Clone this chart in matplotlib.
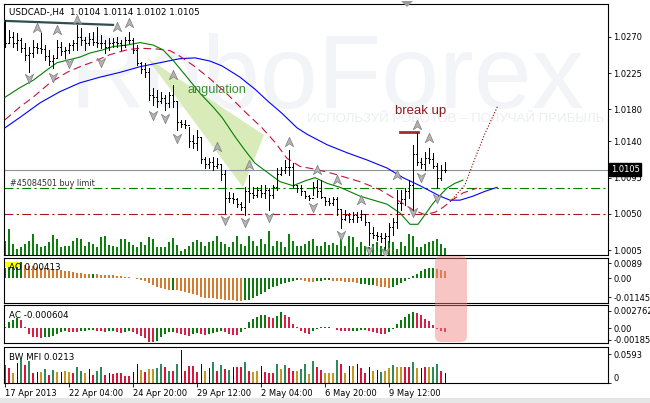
import numpy as np
import matplotlib.pyplot as plt
from matplotlib.path import Path
from matplotlib.patches import Polygon, Rectangle, FancyBboxPatch
from matplotlib.transforms import IdentityTransform

W, H = 650, 403
plt.rcParams['font.family'] = 'DejaVu Sans'

chart_title = "USDCAD-,H4  1.0104 1.0114 1.0102 1.0105"

# H4 bars, index 0 = 17 Apr 2013
highs = [1.0291, 1.0279, 1.0276, 1.0275, 1.0269, 1.0263, 1.0258, 1.0266, 1.0263, 1.0275,
         1.0260, 1.0254, 1.0248, 1.0266, 1.0264, 1.0258, 1.0263, 1.0266, 1.0285, 1.0281,
         1.0270, 1.0275, 1.0276, 1.0282, 1.0272, 1.0266, 1.0269, 1.0269, 1.0270, 1.0266,
         1.0270, 1.0276, 1.0269, 1.0260, 1.0239, 1.0238, 1.0231, 1.0207, 1.0204, 1.0202,
         1.0198, 1.0202, 1.0210, 1.0189, 1.0167, 1.0167, 1.0158, 1.0148, 1.0154, 1.0144,
         1.0121, 1.0119, 1.0121, 1.0119, 1.0111, 1.0105, 1.0077, 1.0076, 1.0070, 1.0065,
         1.0083, 1.0098, 1.0083, 1.0083, 1.0086, 1.0086, 1.0082, 1.0086, 1.0107, 1.0108,
         1.0117, 1.0129, 1.0113, 1.0086, 1.0086, 1.0077, 1.0073, 1.0090, 1.0092, 1.0092,
         1.0071, 1.0070, 1.0071, 1.0071, 1.0055, 1.0055, 1.0051, 1.0052, 1.0052, 1.0055,
         1.0049, 1.0039, 1.0034, 1.0027, 1.0026, 1.0026, 1.0039, 1.0045, 1.0080, 1.0080,
         1.0082, 1.0092, 1.0136, 1.0151, 1.0119, 1.0127, 1.0132, 1.0126, 1.0113, 1.0111,
         1.0114]
lows = [1.0258, 1.0263, 1.0258, 1.0254, 1.0251, 1.0241, 1.0226, 1.0245, 1.0250, 1.0250,
        1.0241, 1.0235, 1.0231, 1.0245, 1.0248, 1.0244, 1.0250, 1.0254, 1.0254, 1.0260,
        1.0254, 1.0260, 1.0260, 1.0258, 1.0256, 1.0250, 1.0254, 1.0258, 1.0258, 1.0254,
        1.0258, 1.0263, 1.0250, 1.0235, 1.0225, 1.0220, 1.0192, 1.0185, 1.0183, 1.0188,
        1.0179, 1.0183, 1.0183, 1.0154, 1.0158, 1.0157, 1.0133, 1.0132, 1.0129, 1.0113,
        1.0107, 1.0107, 1.0105, 1.0107, 1.0092, 1.0051, 1.0065, 1.0063, 1.0058, 1.0055,
        1.0049, 1.0065, 1.0070, 1.0071, 1.0071, 1.0070, 1.0055, 1.0070, 1.0080, 1.0098,
        1.0101, 1.0098, 1.0083, 1.0077, 1.0073, 1.0070, 1.0067, 1.0073, 1.0071, 1.0070,
        1.0061, 1.0061, 1.0061, 1.0049, 1.0032, 1.0042, 1.0040, 1.0040, 1.0040, 1.0042,
        1.0036, 1.0011, 1.0020, 1.0017, 1.0015, 1.0007, 1.0015, 1.0024, 1.0032, 1.0055,
        1.0061, 1.0070, 1.0052, 1.0111, 1.0107, 1.0105, 1.0113, 1.0107, 1.0082, 1.0092,
        1.0102]
closes = [1.0262, 1.0270, 1.0262, 1.0266, 1.0256, 1.0248, 1.0250, 1.0258, 1.0256, 1.0255,
          1.0246, 1.0240, 1.0244, 1.0258, 1.0252, 1.0254, 1.0260, 1.0262, 1.0270, 1.0266,
          1.0262, 1.0268, 1.0264, 1.0262, 1.0262, 1.0258, 1.0262, 1.0264, 1.0262, 1.0260,
          1.0266, 1.0266, 1.0254, 1.0238, 1.0230, 1.0226, 1.0198, 1.0195, 1.0190, 1.0194,
          1.0188, 1.0198, 1.0190, 1.0164, 1.0162, 1.0160, 1.0140, 1.0138, 1.0146, 1.0118,
          1.0112, 1.0114, 1.0110, 1.0112, 1.0100, 1.0070, 1.0070, 1.0068, 1.0062, 1.0058,
          1.0078, 1.0076, 1.0074, 1.0080, 1.0076, 1.0080, 1.0074, 1.0084, 1.0100, 1.0104,
          1.0108, 1.0108, 1.0086, 1.0082, 1.0078, 1.0072, 1.0070, 1.0084, 1.0078, 1.0071,
          1.0066, 1.0064, 1.0068, 1.0056, 1.0044, 1.0048, 1.0044, 1.0048, 1.0046, 1.0050,
          1.0040, 1.0026, 1.0024, 1.0022, 1.0020, 1.0022, 1.0034, 1.0040, 1.0064, 1.0068,
          1.0078, 1.0086, 1.0124, 1.0115, 1.0112, 1.0120, 1.0118, 1.0110, 1.0094, 1.0104,
          1.0105]
opens = [1.0270] + closes[:-1]
volumes = [1400, 2600, 1100, 600, 800, 1100, 1400, 2100, 1100, 800,
           900, 1300, 2000, 1600, 800, 900, 900, 1400, 1700, 1600,
           900, 1300, 1100, 800, 1800, 1900, 1000, 900, 800, 1600,
           1600, 1300, 1000, 800, 1300, 1000, 1800, 1600, 800, 800,
           800, 1300, 1700, 1000, 400, 600, 900, 1300, 1500, 1300,
           900, 1300, 1400, 1900, 1300, 1100, 800, 1300, 1900, 1100,
           900, 1900, 1400, 900, 1600, 1100, 2400, 900, 1400, 1300,
           800, 2100, 1400, 900, 900, 1100, 1400, 1600, 900, 900,
           1300, 1000, 1200, 1000, 1600, 900, 1900, 1800, 800, 1300,
           900, 800, 1100, 1300, 900, 800, 1400, 1300, 600, 1300,
           900, 2100, 1900, 800, 800, 1100, 1300, 1400, 1600, 1100,
           700]

# Alligator lines (bar position, price), shifted past the last bar
lips_x = [0, 3.75, 7, 10.5, 13, 15.5, 18.75, 21.25, 24.5, 27, 30.5, 33.75, 37, 39.5, 42, 45.5,
          48.75, 52, 54.25, 57.5, 60, 62.5, 65.75, 68.75, 72, 75, 77.5, 80.5, 83.75, 88.75,
          95.5, 98.75, 101.25, 103.25, 105, 107, 108.75, 110.5, 112.5, 114.5]
lips_y = [1.0195, 1.0207, 1.0216, 1.0229, 1.0238, 1.0241, 1.0245, 1.0250, 1.0254, 1.0258,
          1.0260, 1.0263, 1.0260, 1.0254, 1.0241, 1.0220, 1.0200, 1.0183, 1.0170, 1.0146,
          1.0129, 1.0113, 1.0101, 1.0090, 1.0085, 1.0091, 1.0095, 1.0088, 1.0083, 1.0072,
          1.0062, 1.0051, 1.0037, 1.0037, 1.0049, 1.0063, 1.0073, 1.0082, 1.0088, 1.0092]
teeth_x = [0, 3.75, 7, 11.25, 15.5, 18.75, 22, 26.25, 30.5, 33.75, 38, 41.25, 43.75, 47.5,
           51.25, 55.75, 60, 64.25, 67.5, 70.5, 73.75, 78, 82, 88.75, 93.75, 98.75, 102,
           105, 107.5, 109.5, 111.75, 114.5, 118]
teeth_y = [1.0167, 1.0183, 1.0195, 1.0213, 1.0226, 1.0233, 1.0239, 1.0248, 1.0254, 1.0256,
           1.0255, 1.0253, 1.0246, 1.0233, 1.0218, 1.0198, 1.0177, 1.0157, 1.0139, 1.0119,
           1.0109, 1.0105, 1.0100, 1.0090, 1.0080, 1.0065, 1.0055, 1.0049, 1.0052, 1.0058,
           1.0067, 1.0076, 1.0082]
jaw_x = [0, 3.75, 8.75, 13.75, 18.75, 23.75, 28.75, 33.75, 38.75, 43.75, 47.5, 51.25, 54.25,
         58.75, 62.5, 65.75, 69.25, 73, 75.5, 80.5, 85.5, 90.5, 95.5, 99.5, 103.75, 108.75,
         111.25, 113.75, 117, 120, 123]
jaw_y = [1.0157, 1.0170, 1.0188, 1.0202, 1.0213, 1.0220, 1.0226, 1.0233, 1.0238, 1.0243,
         1.0244, 1.0240, 1.0234, 1.0220, 1.0205, 1.0190, 1.0175, 1.0157, 1.0149, 1.0136,
         1.0126, 1.0117, 1.0107, 1.0095, 1.0085, 1.0072, 1.0067, 1.0067, 1.0072, 1.0078,
         1.0083]
forecast_x = [111.25, 115, 117.5, 120, 123.25]
forecast_y = [1.0065, 1.0086, 1.0119, 1.0150, 1.0185]

# fractal arrows
frac_up_x = [8, 13, 18, 28, 31, 42, 53, 61, 71, 78, 83, 89, 98, 103, 106]
frac_up_y = [1.0281, 1.0279, 1.0291, 1.0282, 1.0287, 1.0223, 1.0133, 1.0111, 1.0139, 1.0105,
             1.0092, 1.0067, 1.0098, 1.0160, 1.0144]
frac_dn_x = [6, 12, 16, 24, 37, 40, 43, 55, 60, 66, 77, 84, 91, 95, 102, 104, 108]
frac_dn_y = [1.0219, 1.0220, 1.0238, 1.0239, 1.0173, 1.0169, 1.0144, 1.0042, 1.0040, 1.0046,
             1.0058, 1.0024, 1.0005, 1.0003, 1.0052, 1.0096, 1.0070]

# drawn objects
trend_x, trend_y = [0, 27], [1.0290, 1.0285]
breakup_x, breakup_y = [98.75, 103.25], [1.0152, 1.0152]
angulation_x = [35.5, 64.75, 59.5]
angulation_y = [1.0244, 1.0148, 1.0083]
current_price = 1.0105
buy_limit = 1.0082
red_level = 1.0050

# oscillators, AO and AC in units of 1e-4, MFI in 1e-3
ao = [60, 72, 84, 90, 96,
      78, 75, 72, 66, 63, 60, 57, 54, 51, 48, 45, 42, 36, 33, 30, 27, 25,
      27,
      23, 20, 18, 17, 16, 14, 12, 9, 6, 3,
      -5, -12, -18, -30, -42, -51, -57, -63, -73,
      -72,
      -74, -78, -84, -90, -96, -102, -111, -117, -120, -122, -124, -126, -129, -132, -134, -137, -140,
      -134, -129, -120, -108, -96, -81, -66, -54, -45, -36, -29, -23, -17, -13,
      -14, -18, -21, -23,
      -18, -15, -13, -12,
      -15, -18, -20, -22, -23, -25, -27,
      -33, -36, -39, -40,
      -45, -51, -55, -58,
      -54, -42, -27, -15, -5,
      12, 26, 40, 52, 60, 62,
      56, 48, 41]
ao_colors = ("g" * 5 + "o" * 17 + "g" + "o" * 19 + "g" + "o" * 17 + "g" * 14 + "o" * 4
             + "g" * 4 + "o" * 7 + "g" * 4 + "o" * 4 + "g" * 11 + "o" * 3)
ac = [1.6, 9.1, 12.8, 15.5, 12.8, 2.1, -9.6, -13.9, -14.9, -15.2,
      -14.9, -14.4, -12.3, -9.6, -6.9, -5.3, -5.6, -5.6, -6.9, -4.8,
      -4.0, -3.2, -3.2, -4.0, -4.8, -5.6, -4.8, -4.0, -6.9, -7.2,
      -5.6, -4.8, -6.4, -9.6, -12.8, -16.0, -22.4, -22.9, -21.3, -14.4,
      -9.6, -6.4, -5.6, -7.2, -9.6, -11.2, -12.8, -8.8, -7.2, -8.8,
      -11.2, -9.6, -8.0, -6.4, -4.8, -6.4, -8.8, -10.4, -10.7, -6.4,
      -1.6, 9.1, 14.4, 18.1, 20.8, 20.8, 17.6, 16.0, 19.7, 25.1,
      21.6, 17.1, 6.4, 1.6, -4.0, -7.2, -8.8, -4.0, -0.8, 1.6,
      1.6, 2.1, 0.8, -2.4, -4.0, -4.8, -5.3, -4.8, -4.3, -3.7,
      -2.4, -4.0, -5.6, -7.2, -9.6, -9.6, -5.6, -1.6, 6.9, 12.8,
      18.4, 22.9, 25.6, 24.5, 20.3, 14.9, 11.7, 4.3, -1.1, -4.8,
      -6.04]
ac_colors = ("gggg" + "r" * 6 + "g" * 6 + "rrr" + "gggg" + "rrr" + "gg" + "rr" + "gg"
             + "r" * 6 + "g" * 5 + "rrrr" + "gg" + "rr" + "gggg" + "rrrr" + "g" * 7 + "rr"
             + "gg" + "r" * 7 + "g" * 5 + "r" * 5 + "gggg" + "r" * 5 + "g" * 7 + "r" * 8)
mfi = [37.5, 30.3, 19.7, 40.9, 46.6, 37.5, 44.5, 21.2, 23.3, 23.3,
       28.2, 16.3, 26.9, 23.3, 23.3, 25.4, 23.3, 19.7, 33.9, 25.4,
       21.2, 28.2, 16.3, 25.4, 32.4, 16.3, 19.7, 18.4, 21.2, 19.7,
       14.2, 14.2, 23.3, 39.6, 26.9, 23.3, 28.2, 29.7, 30.3, 39.6,
       33.9, 25.4, 25.4, 39.6, 67.2, 25.4, 35.4, 35.4, 23.3, 39.6,
       25.4, 30.3, 42.4, 25.4, 37.5, 28.2, 26.9, 33.9, 32.4, 32.4,
       42.4, 25.4, 23.3, 25.4, 35.4, 23.3, 21.2, 19.7, 39.6, 28.2,
       37.5, 30.3, 25.4, 25.4, 28.2, 39.6, 18.4, 44.5, 32.4, 26.9,
       19.7, 19.7, 19.7, 46.6, 39.6, 19.7, 35.4, 35.4, 39.6, 30.3,
       21.2, 33.9, 25.4, 26.9, 23.3, 25.4, 30.3, 37.5, 33.9, 32.4,
       32.4, 32.4, 42.4, 30.3, 30.3, 33.9, 32.4, 32.4, 39.6, 25.4,
       21.3]
mfi_colors = ("rrybgrgrby" "grgybyyrgg" "ybrggrbrrr" "rrbbyryygg" "rgrgbrrrrb"
              "ybgrgrgbrr" "gryybrrrgy" "grryggygrr" "yyygrybybr" "rbybgyygyy" "rrgybryggrb")

date_ticks = [0, 16, 32, 48, 64, 80, 96]
date_labels = ['17 Apr 2013', '22 Apr 04:00', '24 Apr 20:00', '29 Apr 12:00',
               '2 May 04:00', '6 May 20:00', '9 May 12:00']
price_ticks = [1.0005, 1.0050, 1.0095, 1.0140, 1.0180, 1.0225, 1.0270]

XLIM = (-0.25, 150.75)
PX = 0.72  # one pixel in points at dpi 100


def px_axes(fig, l, t, r, b):
    return fig.add_axes([l / W, 1 - b / H, (r - l) / W, (b - t) / H])


def style_panel(ax, ticks, labels, ylim):
    ax.set_xlim(*XLIM)
    ax.set_ylim(*ylim)
    ax.yaxis.tick_right()
    ax.set_yticks(ticks)
    ax.set_yticklabels(labels)
    ax.tick_params(axis='y', direction='out', length=2.5, width=0.6, pad=1.5,
                   labelsize=6, colors='black')
    ax.set_xticks([])
    for s in ax.spines.values():
        s.set_linewidth(0.8)
        s.set_color('black')


fig = plt.figure(figsize=(W / 100, H / 100), dpi=100)
fig.patch.set_facecolor('white')

x = np.arange(len(closes))

# volume + watermark layer under the price panel
ax_vol = px_axes(fig, 4, 4, 608, 255)
ax_vol.set_xlim(*XLIM)
ax_vol.set_ylim(0, 25100)
ax_vol.axis('off')
ax_vol.bar(np.arange(len(volumes)), volumes, width=0.3, color='#0b800b', linewidth=0)

ax = px_axes(fig, 4, 4, 608, 255)
ax.set_facecolor('none')
style_panel(ax, price_ticks, ['%.4f' % p for p in price_ticks], (0.99988, 1.03110))

ax.text(16.25, 1.0182, 'RoboForex', fontsize=75, family='Liberation Sans',
        color='#f3f4f7', ha='left', va='baseline', zorder=0)
ax.text(75.5, 1.0168, 'ИСПОЛЬЗУЙ РОБОТОВ – ПОЛУЧАЙ ПРИБЫЛЬ', fontsize=9.5,
        family='Liberation Sans', color='#eceef2', ha='left', va='center', zorder=0)

ax.add_patch(Polygon(list(zip(angulation_x, angulation_y)), closed=True,
                     facecolor='#d9ebb9', edgecolor='none', zorder=1))

ax.axhline(current_price, color='#8a949e', lw=0.8, zorder=2)
ax.axhline(buy_limit, color='#008000', lw=0.8, dashes=(8, 3, 2, 3), zorder=2)
ax.axhline(red_level, color='#a01818', lw=0.8, dashes=(8, 3, 2, 3), zorder=2)

ax.plot(jaw_x, jaw_y, color='#0000ff', lw=0.8, zorder=3)
ax.plot(teeth_x, teeth_y, color='#c0143c', lw=0.8, dashes=(7, 4), zorder=3)
ax.plot(lips_x, lips_y, color='#008000', lw=0.8, zorder=3)
ax.plot(forecast_x, forecast_y, color='#8b0000', lw=0.8, ls=':', zorder=3)

ax.plot(trend_x, trend_y, color='#2f4f4f', lw=1.6, zorder=4)
ax.plot(breakup_x, breakup_y, color='#a52a2a', lw=2.0, zorder=4)

ax.vlines(x, lows, highs, color='black', lw=PX, antialiased=False, zorder=5)
ax.hlines(opens, x - 0.3, x, color='black', lw=PX, antialiased=False, zorder=5)
ax.hlines(closes, x, x + 0.3, color='black', lw=PX, antialiased=False, zorder=5)

up_arrow = Path([(0, 1), (0.8, -0.8), (0, -0.25), (-0.8, -0.8), (0, 1)],
                [Path.MOVETO, Path.LINETO, Path.LINETO, Path.LINETO, Path.CLOSEPOLY])
dn_arrow = Path([(0, -1), (0.8, 0.8), (0, 0.25), (-0.8, 0.8), (0, -1)],
                [Path.MOVETO, Path.LINETO, Path.LINETO, Path.LINETO, Path.CLOSEPOLY])
ax.plot(frac_up_x, frac_up_y, ls='none', marker=up_arrow, ms=7.5,
        mfc='#b4b4b4', mec='#7c7c7c', mew=0.5, zorder=6)
ax.plot(frac_dn_x, frac_dn_y, ls='none', marker=dn_arrow, ms=7.5,
        mfc='#b4b4b4', mec='#7c7c7c', mew=0.5, zorder=6)

ax.text(45.75, 1.0204, 'angulation', fontsize=9.2, family='Liberation Sans',
        color='#3a8c2e', ha='left', va='center', zorder=7)
ax.text(97.5, 1.0178, 'break up', fontsize=9.5, family='Liberation Sans',
        color='#8b1c1c', ha='left', va='center', zorder=7)
ax.text(1.25, 1.0088, '#45084501 buy limit', fontsize=5.8, color='#303030',
        ha='left', va='center', zorder=7)
ax.text(5 / 604, 1 - 8 / 251, chart_title, transform=ax.transAxes, fontsize=6.3,
        ha='left', va='center', zorder=7)
ax.annotate('%.4f' % current_price, xy=(1, current_price),
            xycoords=('axes fraction', 'data'), xytext=(2, 0), textcoords='offset points',
            ha='left', va='center', fontsize=6, color='white', annotation_clip=False,
            bbox=dict(boxstyle='square,pad=0.2', fc='black', ec='black'), zorder=10)

# Awesome Oscillator
ax_ao = px_axes(fig, 4, 258, 608, 303)
style_panel(ax_ao, [0.0089, 0.0, -0.01145], ['0.0089', '0.00', '-0.01145'], (-0.015, 0.012))
ao_cmap = {'g': '#0a7a0a', 'o': '#d67a30'}
ax_ao.bar(np.arange(len(ao)), np.array(ao) * 1e-4, width=0.72,
          color=[ao_cmap[c] for c in ao_colors], linewidth=0)

# Accelerator Oscillator
ax_ac = px_axes(fig, 4, 305, 608, 343)
style_panel(ax_ac, [0.002762, 0.0, -0.00185], ['0.002762', '0.00', '-0.00185'],
            (-0.0024, 0.0037))
ac_cmap = {'g': '#0a7a0a', 'r': '#dc1e46'}
ax_ac.bar(np.arange(len(ac)), np.array(ac) * 1e-4, width=0.72,
          color=[ac_cmap[c] for c in ac_colors], linewidth=0)

# BW MFI
ax_mfi = px_axes(fig, 4, 347, 608, 383)
style_panel(ax_mfi, [0.0593, 0.0], ['0.0593', '0'], (0, 0.0742))
ax_mfi.get_yticklabels()[1].set_va('bottom')
mfi_cmap = {'g': '#2e8b57', 'r': '#dc143c', 'y': '#c8961e', 'b': '#00008b'}
mfi_x = np.arange(len(mfi))
mfi_v = np.array(mfi) * 1e-3
wide = np.array([c != 'b' for c in mfi_colors])
ax_mfi.bar(mfi_x[wide], mfi_v[wide], width=0.72, linewidth=0,
           color=[mfi_cmap[c] for c in mfi_colors if c != 'b'])
ax_mfi.bar(mfi_x[~wide], mfi_v[~wide], width=0.25, linewidth=0, color=mfi_cmap['b'])
ax_mfi.set_xticks(date_ticks)
ax_mfi.set_xticklabels(date_labels, ha='left')
ax_mfi.tick_params(axis='x', direction='out', length=3, width=0.6, pad=1.5, labelsize=6)

# panel captions
fig.patches.append(Rectangle((5 / W, 1 - 267 / H), 15 / W, 5 / H, transform=fig.transFigure,
                             facecolor='#ffff00', edgecolor='none', zorder=1))
fig.text(9 / W, 1 - 268 / H, 'AO 0.00413', fontsize=6.3, va='center', zorder=3)
fig.text(9 / W, 1 - 315 / H, 'AC -0.000604', fontsize=6.3, va='center', zorder=3)
fig.text(9 / W, 1 - 357 / H, 'BW MFI 0.0213', fontsize=6.3, va='center', zorder=3)

# highlight box over the last AO/AC bars
fig.patches.append(FancyBboxPatch((435, H - 342), 32, 86,
                                  boxstyle='round,pad=0,rounding_size=6',
                                  transform=IdentityTransform(), facecolor='#f08080',
                                  edgecolor='none', alpha=0.45, zorder=2))
# chart shift marker and bottom strip
fig.patches.append(Polygon([(401 / W, 1 - 1 / H), (413 / W, 1 - 1 / H), (407 / W, 1 - 7 / H)],
                           closed=True, transform=fig.transFigure, facecolor='#9a9a9a',
                           edgecolor='none', zorder=2))
fig.patches.append(Rectangle((0, 0), 1, 5 / H, transform=fig.transFigure,
                             facecolor='#e6e6e6', edgecolor='none', zorder=1))

fig.savefig('out.png', dpi=100)
